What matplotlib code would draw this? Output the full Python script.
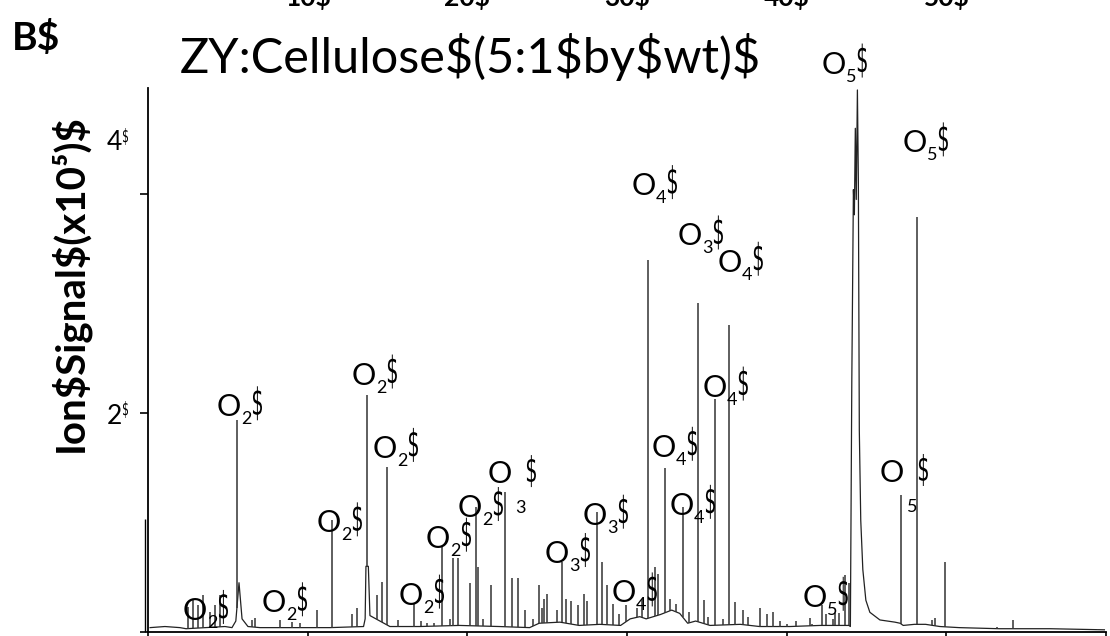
import matplotlib
matplotlib.use("Agg")
import matplotlib.pyplot as plt
import numpy as np
from matplotlib.font_manager import FontProperties
from matplotlib.patches import PathPatch
from matplotlib.textpath import TextPath
from matplotlib.transforms import Affine2D, blended_transform_factory

FONT = ["Lato", "DejaVu Sans"]
plt.rcParams["font.family"] = FONT

# slow part of the trace (baseline, broad feet, the big O5 peak), min / x10^5
trace_rt = [0.13, 1.06, 2.0, 2.38, 4.82, 5.26, 5.50, 5.70, 5.89, 6.26, 7.01, 9.52,
            11.4, 13.5, 13.6, 13.65, 13.8, 13.9, 15.15, 17.0, 19.5, 22.0, 23.9,
            24.5, 25.8, 27.0, 28.3, 29.6, 30.2, 30.8, 31.2, 32.1, 32.8, 33.3, 33.8,
            34.3, 35.2, 37.1, 38.3, 40.2, 42.1, 43.9, 43.99, 44.08, 44.18, 44.24,
            44.30, 44.36, 44.43, 44.49, 44.55, 44.64, 44.77, 44.96, 45.21, 45.84,
            46.78, 47.1, 47.3, 48.0, 48.7, 49.6, 50.8, 53.3, 56.5, 59.9]
trace_sig = [0.04, 0.05, 0.04, 0.03, 0.05, 0.04, 0.10, 0.45, 0.12, 0.05, 0.04, 0.04,
             0.04, 0.05, 0.12, 0.60, 0.60, 0.15, 0.05, 0.05, 0.06, 0.05, 0.04,
             0.08, 0.09, 0.06, 0.07, 0.06, 0.12, 0.14, 0.12, 0.16, 0.20, 0.17, 0.08,
             0.10, 0.06, 0.07, 0.05, 0.05, 0.06, 0.06, 0.05, 2.30, 4.04, 3.81,
             4.60, 3.95, 4.95, 4.13, 1.84, 1.02, 0.57, 0.29, 0.18, 0.11,
             0.09, 0.08, 0.06, 0.07, 0.07, 0.05, 0.04, 0.03, 0.03, 0.02]

# sharp peaks
peak_rt = [2.50, 2.82, 3.13, 3.44, 3.88, 4.20, 4.51, 5.57, 6.51, 6.70, 8.27, 9.0,
           9.52, 10.6, 11.52, 12.77, 13.09, 13.71, 14.34, 14.65, 14.97, 15.65,
           16.66, 17.1, 17.5, 17.9, 18.41, 18.9, 19.10, 19.41, 20.16, 20.54,
           20.66, 21.0, 21.48, 22.35, 22.79, 23.17, 23.6, 24.1, 24.5, 24.65,
           24.8, 25.0, 25.6, 25.92, 26.2, 26.5, 26.9, 27.3, 27.5, 28.11, 28.43,
           28.74, 29.12, 29.5, 29.93, 30.6, 30.95, 31.31, 31.75, 31.94, 32.37,
           32.7, 33.1, 33.5, 33.9, 34.44, 34.82, 35.1, 35.5, 36.0, 36.38, 36.76,
           37.26, 37.6, 38.32, 38.76, 39.13, 39.6, 40.0, 40.6, 41.45, 41.6,
           42.20, 42.45, 42.9, 43.0, 43.3, 43.64, 43.89, 47.15, 48.15, 49.1,
           49.3, 49.9, 53.2, 54.2, 59.5]
peak_top = [0.23, 0.29, 0.25, 0.34, 0.18, 0.25, 0.34, 1.94, 0.11, 0.13, 0.11, 0.09,
            0.08, 0.20, 1.02, 0.16, 0.22, 2.16, 0.34, 0.46, 1.51, 0.11,
            0.26, 0.10, 0.08, 0.08, 0.78, 0.12, 0.68, 0.68, 0.45, 1.14,
            0.59, 0.12, 0.43, 1.28, 0.49, 0.49, 0.20, 0.12, 0.43, 0.22,
            0.30, 0.35, 0.20, 0.64, 0.30, 0.28, 0.25, 0.35, 0.28, 1.10, 0.64,
            0.43, 0.26, 0.16, 0.25, 0.22, 0.30, 3.40, 0.59, 0.53, 1.50,
            0.30, 0.26, 1.14, 0.18, 3.00, 0.29, 0.14, 2.13, 0.12, 2.80, 0.27,
            0.20, 0.14, 0.22, 0.16, 0.18, 0.10, 0.07, 0.10, 0.13, 0.07,
            0.25, 0.16, 0.12, 0.17, 0.17, 0.52, 0.45, 1.25, 3.79, 0.11,
            0.13, 0.64, 0.05, 0.11, 0.03]

# spike drawn just left of the axis
spike_rt = -0.19
spike_top = 1.03

# peak labels: O + subscript, anchored at the O's baseline
label_rt = [2.19, 7.14, 4.32, 10.58, 12.77, 14.09, 15.72, 17.41, 19.41, 21.29,
            24.86, 27.24, 29.05, 30.31, 31.56, 32.69, 33.19, 35.69, 34.75,
            42.20, 47.28, 45.84, 41.01]
label_sig = [0.11, 0.18, 1.97, 0.91, 2.26, 1.59, 0.25, 0.77, 1.05, 1.36,
             0.63, 0.98, 0.27, 3.99, 1.60, 1.07, 3.53, 3.29, 2.15,
             5.10, 4.38, 1.37, 0.23]
label_sub = ["2", "2", "2", "2", "2", "2", "2", "2", "2", "3",
             "3", "3", "4", "4", "4", "4", "3", "4", "4",
             "5", "5", "5", "5"]
broken = [9, 21]  # labels whose subscript dropped below

top_ticks = [10, 20, 30, 40, 50]

fig = plt.figure(figsize=(11.1, 6.36), dpi=100)
W, H = 1110, 636
ax = fig.add_axes([148 / W, 4 / H, (1106 - 148) / W, (632 - 88) / H])
ax.set_xlim(0, 60)
ax.set_ylim(0, 4.968)

ax.plot(trace_rt, trace_sig, color="#222222", lw=0.9)
ymin = np.interp(peak_rt, trace_rt, trace_sig)
ax.vlines(peak_rt, ymin, peak_top, color="#333333", lw=1.1)
ax.vlines(spike_rt, 0, spike_top, color="black", lw=1.0, clip_on=False)

for s in ["top", "right"]:
    ax.spines[s].set_visible(False)
for s in ["left", "bottom"]:
    ax.spines[s].set_linewidth(1.3)
ax.set_xticks(range(0, 61, 10))
ax.set_xticklabels([])
ax.set_yticks([0, 2, 4])
ax.set_yticklabels([])
ax.tick_params(axis="x", length=6, width=1.2)
ax.tick_params(axis="y", length=6, width=1.2)

# narrow dollar glyphs like the reference
dollar = TextPath((0, 0), "$", size=1, prop=FontProperties(family="DejaVu Sans"))
ext = dollar.get_extents()


def thin_dollar(x, y, w=9, h=34):
    tr = (Affine2D().translate(-ext.x0, -ext.y0)
          .scale(w / ext.width, h / ext.height).translate(x, y))
    fig.add_artist(PathPatch(dollar, transform=tr, fc="black", lw=0))


fig.canvas.draw()
for i, (t, v, n) in enumerate(zip(label_rt, label_sig, label_sub)):
    ax.annotate("O", (t, v), xytext=(0, 0), textcoords="offset pixels",
                fontsize=22, va="baseline", ha="left", annotation_clip=False)
    px, py = ax.transData.transform((t, v))
    if i in broken:
        ax.annotate(n, (t, v), xytext=(27, -30), textcoords="offset pixels",
                    fontsize=13, va="baseline", ha="left", annotation_clip=False)
        thin_dollar(px + 39, py - 4, h=32)
    else:
        ax.annotate(n, (t, v), xytext=(24, -8), textcoords="offset pixels",
                    fontsize=13, va="baseline", ha="left", annotation_clip=False)
        thin_dollar(px + 36, py - 4)

# y tick labels (the "4" sits above its tick in the original)
for lab, yc in [("4", 143), ("2", 416)]:
    fig.text(122 / W, 1 - yc / H, lab, fontsize=19, ha="right", va="center")
    thin_dollar(123, H - yc - 2, w=5, h=17)

# cut-off tick labels of the panel above
tb = blended_transform_factory(ax.transData, fig.transFigure)
for t in top_ticks:
    ax.text(t, 1 - 6 / H, f"{t}$", transform=tb, fontsize=19, weight="bold",
            ha="center", va="baseline", parse_math=False, clip_on=False)

fig.text(470 / W, 1 - 57 / H, "ZY:Cellulose$(5:1$by$wt)$", fontsize=35,
         ha="center", va="center", parse_math=False)
fig.text(12 / W, 1 - 38 / H, "B$", fontsize=28, weight="bold",
         ha="left", va="center", parse_math=False)
fig.text(70 / W, 1 - 283 / H, "Ion$Signal$(x10\u2075)$", fontsize=29,
         weight="bold", rotation=90, ha="center", va="center", parse_math=False)

fig.savefig("out.png", dpi=100)
